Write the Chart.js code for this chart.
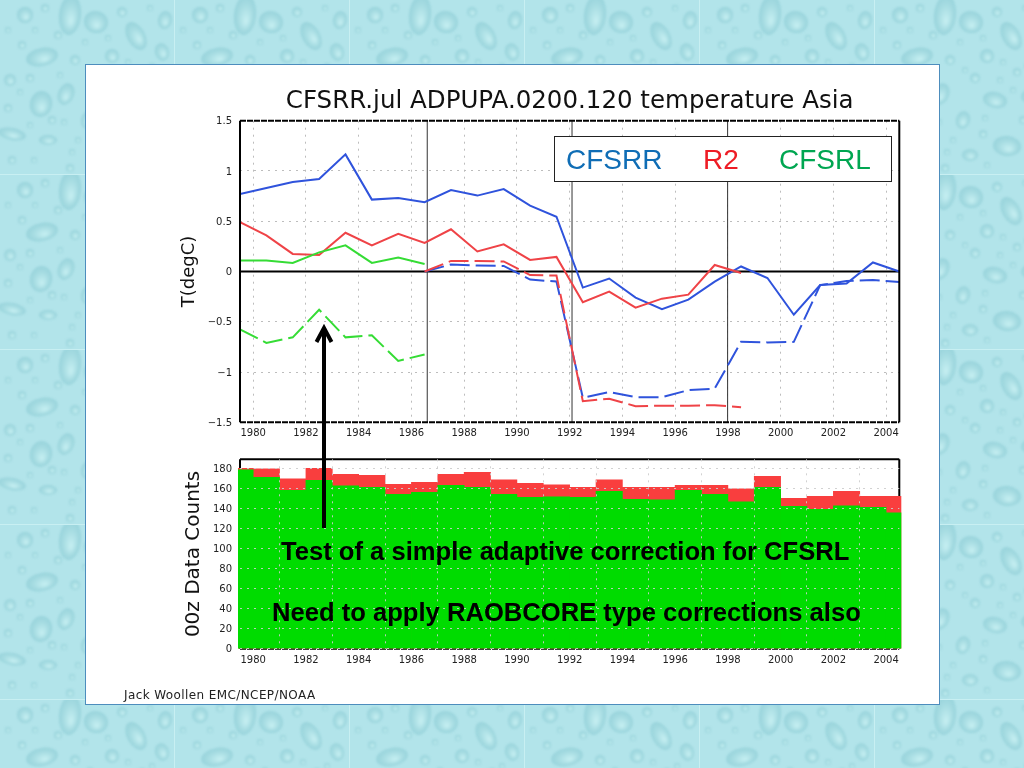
<!DOCTYPE html>
<html>
<head>
<meta charset="utf-8">
<script src="https://cdn.jsdelivr.net/npm/chart.js@4/dist/chart.umd.min.js"></script>
<style>
  html, body { margin: 0; padding: 0; width: 1024px; height: 768px; overflow: hidden; }
  body { position: relative; background-color: #b4e6ec; font-family: "Liberation Sans", sans-serif; }
  #panel { position: absolute; left: 85px; top: 64px; width: 853px; height: 639px; background: #fff; border: 1px solid #4d8dbd; }
  canvas.plot { position: absolute; left: 170px; }
  #legendBox { position: absolute; left: 554px; top: 136px; width: 336px; height: 44px; background: #fff; border: 1px solid #222; font-size: 28px; line-height: 46px; }
  #legendBox span { position: absolute; top: 0; }
  .note { position: absolute; font-weight: bold; font-size: 25.6px; line-height: 30px; color: #000; white-space: nowrap; }
  #footer { position: absolute; left: 124px; top: 688px; font: 12px "DejaVu Sans", sans-serif; letter-spacing: 0.4px; color: #222; white-space: nowrap; }
  #arrow { position: absolute; left: 0; top: 0; }
</style>
</head>
<body>
<div id="panel"></div>
<canvas class="plot" id="tempChart" width="740" height="362" style="top:80px"></canvas>
<canvas class="plot" id="countChart" width="740" height="220" style="top:450px"></canvas>
<div id="legendBox">
  <span style="left:11px;color:#0f6db5">CFSRR</span>
  <span style="left:148px;color:#ee1c25">R2</span>
  <span style="left:224px;color:#00a651">CFSRL</span>
</div>
<svg id="arrow" width="1024" height="768">
  <path d="M324 528 V328 M316.5 342 L324 328 L331.5 342" fill="none" stroke="#000" stroke-width="4"/>
</svg>
<div class="note" style="left:281px;top:536px">Test of a simple adaptive correction for CFSRL</div>
<div class="note" style="left:272px;top:597px">Need to apply RAOBCORE type corrections also</div>
<div id="footer">Jack Woollen EMC/NCEP/NOAA</div>

<script>
const years = [1979.5, 1980.5, 1981.5, 1982.5, 1983.5, 1984.5, 1985.5, 1986.5, 1987.5, 1988.5, 1989.5, 1990.5, 1991.5,
  1992.5, 1993.5, 1994.5, 1995.5, 1996.5, 1997.5, 1998.5, 1999.5, 2000.5, 2001.5, 2002.5, 2003.5, 2004.5];
const yearTicks = [1980, 1982, 1984, 1986, 1988, 1990, 1992, 1994, 1996, 1998, 2000, 2002, 2004];
const tempTicks = [-1.5, -1, -0.5, 0, 0.5, 1, 1.5];
const countTicks = [0, 20, 40, 60, 80, 100, 120, 140, 160, 180];
const streamYears = [1986.6, 1992.09, 1997.99];

const cfsrrSolid = [0.77, 0.83, 0.89, 0.92, 1.165, 0.715, 0.73, 0.69, 0.81, 0.755, 0.82, 0.655, 0.545,
  -0.16, -0.07, -0.26, -0.375, -0.28, -0.1, 0.05, -0.065, -0.43, -0.135, -0.12, 0.09, 0];
const r2Solid = [0.49, 0.36, 0.175, 0.165, 0.385, 0.26, 0.375, 0.285, 0.42, 0.2, 0.27, 0.115, 0.145,
  -0.305, -0.2, -0.36, -0.27, -0.23, 0.065, -0.015, null, null, null, null, null, null];
const cfsrlSolid = [0.11, 0.11, 0.085, 0.19, 0.26, 0.085, 0.14, 0.075, null, null, null, null, null,
  null, null, null, null, null, null, null, null, null, null, null, null, null];
const cfsrrDashed = [null, null, null, null, null, null, null, 0, 0.07, 0.06, 0.055, -0.08, -0.1,
  -1.255, -1.2, -1.25, -1.25, -1.18, -1.165, -0.7, -0.705, -0.7, -0.135, -0.095, -0.085, -0.105];
const r2Dashed = [null, null, null, null, null, null, null, 0, 0.105, 0.105, 0.1, -0.035, -0.04,
  -1.29, -1.265, -1.34, -1.335, -1.335, -1.33, -1.35, null, null, null, null, null, null];
const cfsrlDashed = [-0.575, -0.71, -0.655, -0.38, -0.655, -0.635, -0.89, -0.825, null, null, null, null, null,
  null, null, null, null, null, null, null, null, null, null, null, null, null];

const totalCounts = [180, 179.5, 169.5, 180, 174, 173, 164, 166, 174, 176, 168.5, 165, 163.5,
  161, 168.5, 161, 161, 163, 163, 159.5, 172, 150, 152, 157, 152, 152];
const usedCounts = [178.5, 171, 158, 168, 162.5, 161, 154, 156, 163, 161, 154, 151, 151.5,
  151, 157, 149, 148.5, 158, 154, 146.5, 161, 142, 139, 142.5, 141, 135.5];

const BLUE = "#2f53dc", RED = "#ef4347", GREEN = "#35dc35";
const TICK_FONT = { family: "DejaVu Sans", size: 10 };
const TITLE_FONT = "DejaVu Sans";

// droplets for the wallpaper tile: x, y, rx, ry, rotation
const drops = [[70, 15, 11, 20, 0.1], [96, 22, 12, 11, 0.3], [42, 57, 16, 9, -0.2], [41, 104, 11, 13, 0.2], [66, 94, 8, 11, 0.4],
  [136, 36, 9, 15, -0.5], [165, 20, 7, 9, 0.2], [25, 15, 8, 8, 0], [112, 56, 7, 7, 0], [162, 52, 7, 9, -0.3], [12, 134, 14, 6, 0.2],
  [48, 140, 9, 5, 0], [88, 120, 7, 9, 0.3], [120, 100, 12, 8, 0.2], [155, 96, 9, 7, -0.2], [132, 146, 14, 10, 0.1], [95, 155, 8, 6, 0],
  [165, 135, 6, 8, 0], [10, 80, 6, 6, 0], [22, 45, 4, 4, 0], [58, 35, 4, 4, 0], [100, 78, 5, 5, 0], [142, 72, 4, 4, 0], [75, 60, 5, 5, 0],
  [30, 78, 4, 4, 0], [52, 120, 4, 4, 0], [108, 134, 4, 4, 0], [148, 120, 4, 4, 0], [170, 160, 5, 5, 0], [70, 168, 4, 4, 0], [12, 160, 4, 4, 0],
  [122, 12, 5, 5, 0], [45, 8, 4, 4, 0], [150, 8, 3, 3, 0], [85, 42, 3, 3, 0], [125, 80, 3, 3, 0], [8, 108, 4, 4, 0], [78, 140, 3, 3, 0],
  [8, 30, 3, 3, 0], [35, 30, 3, 3, 0], [60, 75, 3, 3, 0], [20, 92, 3, 3, 0], [30, 125, 3, 3, 0], [64, 122, 3, 3, 0], [72, 152, 3, 3, 0],
  [110, 118, 3, 3, 0], [138, 90, 3, 3, 0], [170, 78, 3, 3, 0], [152, 66, 3, 3, 0], [108, 38, 3, 3, 0], [128, 62, 3, 3, 0], [112, 165, 3, 3, 0],
  [155, 160, 3, 3, 0], [34, 160, 3, 3, 0], [90, 70, 3, 3, 0], [168, 112, 3, 3, 0]];

function paintWallpaper() {
  const tile = document.createElement("canvas");
  tile.width = 175; tile.height = 175;
  const c = tile.getContext("2d");
  c.fillStyle = "#b2e4ea";
  c.fillRect(0, 0, 175, 175);
  c.filter = "blur(0.8px)";
  drops.forEach(d => {
    c.save();
    c.translate(d[0], d[1]);
    c.rotate(d[4]);
    c.scale(d[2], d[3]);
    const g = c.createRadialGradient(0.15, 0.3, 0.1, 0, 0, 1);
    g.addColorStop(0, "#c2edf0");
    g.addColorStop(0.6, "#a6dce2");
    g.addColorStop(1, "#98d3db");
    c.fillStyle = g;
    c.beginPath();
    c.arc(0, 0, 1, 0, Math.PI * 2);
    c.fill();
    c.restore();
  });
  c.filter = "none";
  c.strokeStyle = "#c8eff2";
  c.strokeRect(-0.5, -0.5, 175, 175);
  document.body.style.backgroundImage = "url(" + tile.toDataURL() + ")";
}

function pairs(values) {
  return years.map((x, i) => ({ x: x, y: values[i] }));
}

function lineSet(values, color, dash) {
  return { data: pairs(values), borderColor: color, borderWidth: 2, borderDash: dash || [], pointRadius: 0, tension: 0, spanGaps: false };
}

function minusSign(v) {
  return String(v).replace("-", "\u2212");
}

function drawFrame(chart, opts) {
  const a = chart.chartArea, c = chart.ctx;
  c.save();
  c.strokeStyle = "#000";
  c.lineWidth = 2;
  c.beginPath();
  c.moveTo(a.left, a.top); c.lineTo(a.left, a.bottom);
  c.moveTo(a.right, a.top); c.lineTo(a.right, a.bottom);
  c.stroke();
  c.setLineDash(opts.topDash || []);
  c.beginPath();
  c.moveTo(a.left, a.top); c.lineTo(a.right, a.top);
  c.stroke();
  c.setLineDash([6, 1]);
  c.beginPath();
  c.moveTo(a.left, a.bottom); c.lineTo(a.right, a.bottom);
  c.stroke();
  c.restore();
}

// frame round the plot area, under the bars in the count panel
const framePlugin = {
  id: "frame",
  beforeDatasetsDraw(chart, args, opts) { if (opts.under) drawFrame(chart, opts); },
  afterDraw(chart, args, opts) { if (!opts.under) drawFrame(chart, opts); }
};

function xAxis(height, pad) {
  return {
    type: "linear", min: 1979.5, max: 2004.5, offset: false,
    afterBuildTicks: axis => { axis.ticks = yearTicks.map(v => ({ value: v })); },
    afterFit: axis => { axis.height = height; axis.paddingLeft = 0; axis.paddingRight = 0; },
    ticks: { autoSkip: false, maxRotation: 0, padding: pad, color: "#222", font: TICK_FONT, callback: v => String(v) },
    grid: { drawTicks: false, color: "#bdbdbd", lineWidth: 1 },
    border: { display: false, dash: [2, 5] }
  };
}

function yAxis(min, max, tickValues, title, titleSize, titlePad) {
  return {
    min: min, max: max,
    afterBuildTicks: axis => { axis.ticks = tickValues.map(v => ({ value: v })); },
    afterFit: axis => { axis.width = 70; axis.paddingTop = 0; axis.paddingBottom = 0; },
    ticks: { autoSkip: false, padding: 8, labelOffset: 1, color: "#222", font: TICK_FONT, callback: minusSign },
    grid: { drawTicks: false, color: "#bdbdbd", lineWidth: 1 },
    border: { display: false, dash: [2, 5] },
    title: { display: true, text: title, color: "#111", font: { family: TITLE_FONT, size: titleSize }, padding: { top: titlePad, bottom: 0 } }
  };
}

function initCharts() {
  const tempSets = [
    lineSet(cfsrlDashed, GREEN, [20, 6]),
    lineSet(r2Dashed, RED, [20, 6]),
    lineSet(cfsrrDashed, BLUE, [20, 6]),
    lineSet(cfsrlSolid, GREEN),
    lineSet(r2Solid, RED),
    lineSet(cfsrrSolid, BLUE)
  ];
  streamYears.forEach(x => {
    tempSets.push({ data: [{ x: x, y: -1.5 }, { x: x, y: 1.5 }], borderColor: "#333", borderWidth: 1, pointRadius: 0 });
  });
  tempSets.push({ data: [{ x: 1979.5, y: 0 }, { x: 2004.5, y: 0 }], borderColor: "#000", borderWidth: 2, pointRadius: 0 });

  new Chart(document.getElementById("tempChart"), {
    type: "line",
    data: { datasets: tempSets },
    options: {
      responsive: false, animation: false,
      layout: { padding: { right: 10.7 } },
      plugins: {
        legend: { display: false }, tooltip: { enabled: false },
        title: {
          display: true, fullSize: false, text: "CFSRR.jul ADPUPA.0200.120 temperature Asia",
          color: "#111", font: { family: TITLE_FONT, size: 24.5, weight: "normal" }, padding: { top: 7, bottom: 4.3 }
        },
        frame: { topDash: [6, 1] }
      },
      scales: {
        x: xAxis(19.7, 5),
        y: yAxis(-1.5, 1.5, tempTicks, "T(degC)", 18, 9)
      }
    },
    plugins: [framePlugin]
  });

  const countX = xAxis(21.3, 6);
  countX.grid.z = 1;
  countX.grid.color = "rgba(205,205,205,0.9)";
  const countY = yAxis(0, 189, countTicks, "00z Data Counts", 20, 12);
  countY.grid.z = 1;
  countY.grid.color = "rgba(205,205,205,0.9)";

  new Chart(document.getElementById("countChart"), {
    type: "bar",
    data: {
      datasets: [
        { data: pairs(usedCounts), backgroundColor: "#00dc00", order: 1, clip: 2, barPercentage: 1, categoryPercentage: 1, grouped: false },
        { data: pairs(totalCounts), backgroundColor: "#f93e3e", order: 2, clip: 2, barPercentage: 1, categoryPercentage: 1, grouped: false }
      ]
    },
    options: {
      responsive: false, animation: false,
      layout: { padding: { top: 9.3, right: 10.7 } },
      plugins: { legend: { display: false }, tooltip: { enabled: false }, frame: { under: true } },
      scales: { x: countX, y: countY }
    },
    plugins: [framePlugin]
  });
}

window.onload = () => { paintWallpaper(); initCharts(); };
</script>
</body>
</html>
